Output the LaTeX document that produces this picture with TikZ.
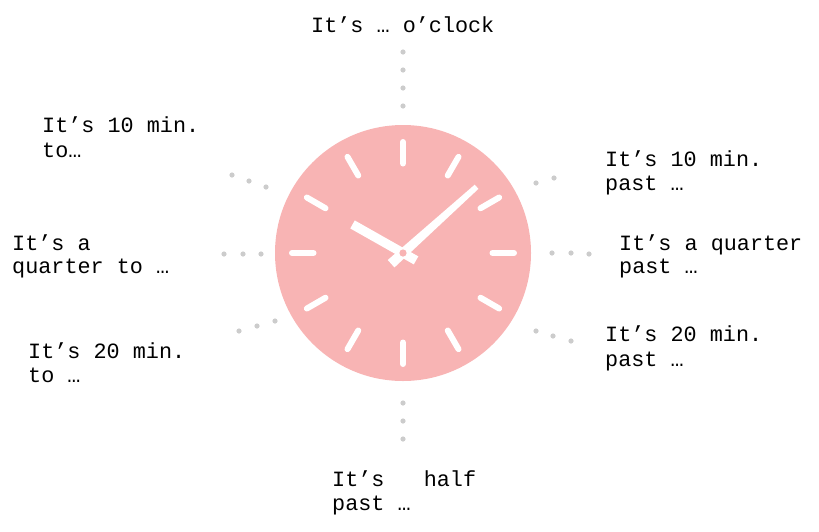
\documentclass[tikz,border=0pt]{standalone}
\usepackage{fontspec}
\newfontfamily\cmono{Liberation Mono}
\usetikzlibrary{calc}
\definecolor{clockpink}{HTML}{F8B4B4}
\definecolor{dotgray}{HTML}{CCCCCC}
\tikzset{
  lbl/.style={font=\cmono\fontsize{21.8}{26}\selectfont, anchor=base west, inner sep=0pt, text=black},
  dotmark/.style={fill=dotgray, draw=none},
  tickmark/.style={draw=white, line width=6pt, line cap=round},
  handshape/.style={fill=white, draw=none}
}
\begin{document}
\begin{tikzpicture}[x=1pt, y=-1pt]
\useasboundingbox (0,0) rectangle (819,531);
\coordinate (c) at (403,253);
% face
\fill[clockpink] (c) circle (128);
\foreach \a in {0,30,...,330}
  \draw[tickmark] ($(c)+(\a:89.5)$) -- ($(c)+(\a:111)$);
% hands
\begin{scope}[shift={(c)}, rotate=150.5]
  \fill[handshape] (-15,-4.6) -- (58,-4.6) -- (58,4.6) -- (-15,4.6) -- cycle;
\end{scope}
\begin{scope}[shift={(c)}, rotate=42]
  \fill[handshape] (-16,-5) -- (99,-2.8) -- (99,2.8) -- (-16,5) -- cycle;
\end{scope}
\fill[clockpink] (c) circle (3.6);
% dots
\foreach \p in {(403,52),(403,70),(403,88),(403,106),
                (403,403),(403,421),(403,439),
                (232,175),(249,181),(266,187),
                (224,254),(243,254),(261,254),
                (239,331),(257,326),(275,321),
                (536,183),(554,178),
                (552,253),(571,253),(589,254),
                (536,331),(553,336),(571,341)}
  \fill[dotmark] \p circle (2.6);
% labels
\node[lbl] (top) at (311,32) {It’s … o’clock};
\node[lbl] (ul1) at (42,132) {It’s 10 min.};
\node[lbl] (ul2) at (42,157) {to…};
\node[lbl] (l1) at (12,250) {It’s a};
\node[lbl] (l2) at (12,273.5) {quarter to …};
\node[lbl] (ll1) at (28,358.5) {It’s 20 min.};
\node[lbl] (ll2) at (28,382) {to …};
\node[lbl] (ur1) at (605,166.5) {It’s 10 min.};
\node[lbl] (ur2) at (605,190.5) {past …};
\node[lbl] (r1) at (619,250) {It’s a quarter};
\node[lbl] (r2) at (619,273.5) {past …};
\node[lbl] (lr1) at (605,341.5) {It’s 20 min.};
\node[lbl] (lr2) at (605,366.5) {past …};
\node[lbl] (b1) at (332,486.5) {It’s\ \ \ half};
\node[lbl] (b2) at (332,510) {past …};
\end{tikzpicture}
\end{document}
